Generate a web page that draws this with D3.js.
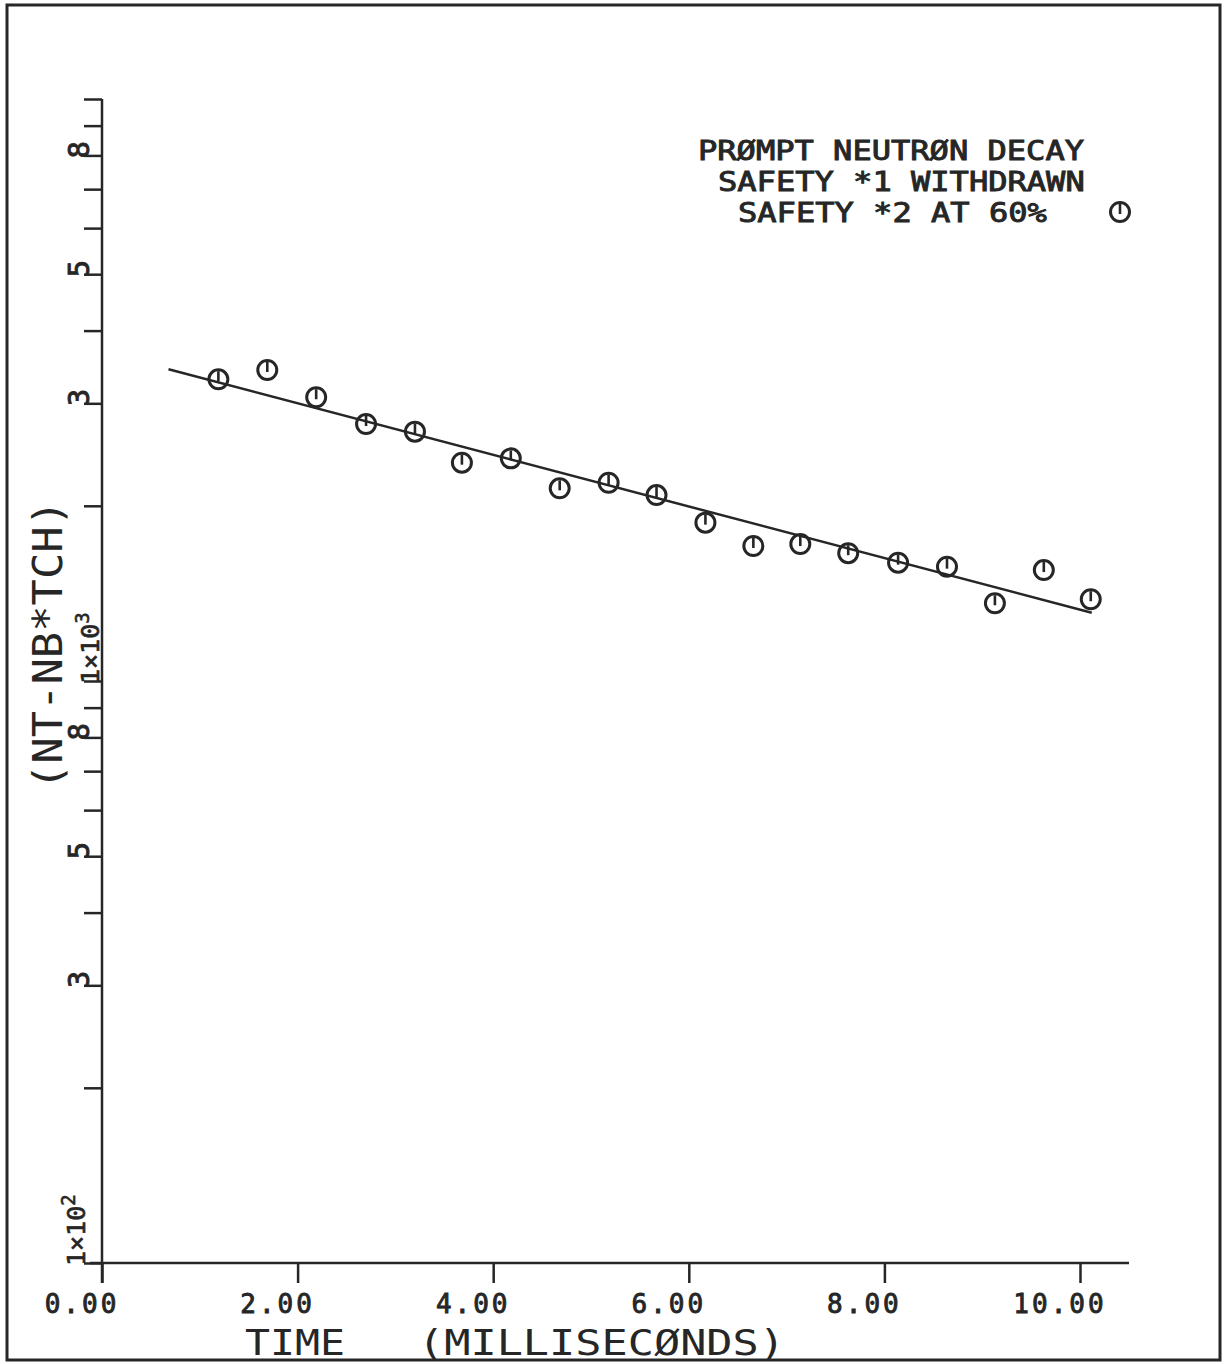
<!DOCTYPE html>
<html>
<head>
<meta charset="utf-8">
<script src="https://cdn.jsdelivr.net/npm/d3@7"></script>
<style>
  body { margin: 0; background: #fff; }
  svg text { font-family: "DejaVu Sans Mono", "Liberation Mono", monospace; fill: #262626; }
</style>
</head>
<body>
<div id="chart"></div>
<script>
// measured decay points (time in ms, counts NT-NB*TCH)
var timeMs = [1.19, 1.69, 2.19, 2.70, 3.20, 3.68, 4.18, 4.68, 5.18, 5.67,
              6.17, 6.66, 7.14, 7.63, 8.14, 8.64, 9.13, 9.63, 10.11];
var counts = [3299, 3423, 3073, 2764, 2682, 2372, 2413, 2143, 2191, 2087,
              1871, 1706, 1719, 1658, 1597, 1572, 1360, 1551, 1382];

// least squares fit line end points
var fitTime = [0.68, 10.12];
var fitCounts = [3433, 1310];

var xTicks = [0, 2, 4, 6, 8, 10];
var xTickLabels = ["0.00", "2.00", "4.00", "6.00", "8.00", "10.00"];
var yTicks = [100, 200, 300, 400, 500, 600, 700, 800, 900,
              1000, 2000, 3000, 4000, 5000, 6000, 7000, 8000, 9000, 10000];
var yDigitTicks = [300, 500, 800, 3000, 5000, 8000];
var yDigitLabels = ["3", "5", "8", "3", "5", "8"];

var legendLines = ["PRØMPT NEUTRØN DECAY", "SAFETY *1 WITHDRAWN", "SAFETY *2 AT 60%"];

var width = 1225, height = 1364,
    ink = "#262626";

var svg = d3.select("#chart").append("svg")
    .attr("width", width)
    .attr("height", height);

// paper frame
svg.append("rect")
    .attr("x", 7).attr("y", 5)
    .attr("width", 1213).attr("height", 1355)
    .attr("fill", "#fff")
    .attr("stroke", ink)
    .attr("stroke-width", 3);

var x = d3.scaleLinear().domain([0, 10]).range([102, 1080]);
var y = d3.scaleLog().domain([100, 10000]).range([1263, 99]);

// x axis
var xAxis = svg.append("g")
    .attr("transform", "translate(0," + y(100) + ")")
    .call(d3.axisBottom(x).tickValues(xTicks).tickSize(20).tickFormat(""));
xAxis.select(".domain").remove();
xAxis.selectAll("line").attr("stroke", ink).attr("stroke-width", 2.5);
xAxis.append("line")
    .attr("x1", 90).attr("x2", 1129)
    .attr("stroke", ink).attr("stroke-width", 2.5);

xAxis.selectAll(".xlab")
    .data(xTicks)
    .enter().append("text")
    .attr("class", "xlab")
    .attr("x", function(d) { return x(d) - 20; })
    .attr("y", 50)
    .attr("font-size", 26)
    .attr("letter-spacing", 3)
    .attr("stroke", ink)
    .attr("stroke-width", 0.9)
    .text(function(d, i) { return xTickLabels[i]; });

// y axis
var yAxis = svg.append("g")
    .attr("transform", "translate(" + x(0) + ",0)")
    .call(d3.axisLeft(y).tickValues(yTicks).tickSize(18).tickFormat(""));
yAxis.select(".domain").remove();
yAxis.selectAll("line").attr("stroke", ink).attr("stroke-width", 2.5);
yAxis.append("line")
    .attr("y1", y(10000)).attr("y2", y(100) + 20)
    .attr("stroke", ink).attr("stroke-width", 2.5);

// rotated digit labels (read bottom to top)
svg.selectAll(".ylab")
    .data(yDigitTicks)
    .enter().append("text")
    .attr("class", "ylab")
    .attr("font-size", 29)
    .attr("stroke", ink)
    .attr("stroke-width", 0.9)
    .attr("transform", function(d) { return "translate(89," + (y(d) + 3) + ") rotate(-90)"; })
    .text(function(d, i) { return yDigitLabels[i]; });

// decade labels
function decadeLabel(v, bx, exp) {
    var t = svg.append("text")
        .attr("font-size", 25)
        .attr("stroke", ink)
        .attr("stroke-width", 0.6)
        .attr("transform", "translate(" + bx + "," + (y(v) + 3) + ") rotate(-90)");
    t.append("tspan").text("1×10");
    t.append("tspan").attr("dy", -10).attr("font-size", 19).text(exp);
}
decadeLabel(100, 85, "2");
decadeLabel(1000, 99, "3");

// axis titles
svg.append("text")
    .attr("font-size", 40)
    .attr("transform", "translate(62,645) rotate(-90)")
    .attr("text-anchor", "middle")
    .attr("textLength", 290)
    .attr("lengthAdjust", "spacingAndGlyphs")
    .text("(NT-NB*TCH)");

svg.append("text")
    .attr("font-size", 35)
    .attr("x", 245).attr("y", 1355)
    .attr("textLength", 100)
    .attr("lengthAdjust", "spacingAndGlyphs")
    .text("TIME");
svg.append("text")
    .attr("font-size", 35)
    .attr("x", 418).attr("y", 1355)
    .attr("textLength", 367)
    .attr("lengthAdjust", "spacingAndGlyphs")
    .text("(MILLISECØNDS)");

// fitted line
var line = d3.line()
    .x(function(d) { return x(d[0]); })
    .y(function(d) { return y(d[1]); });
svg.append("path")
    .datum(d3.zip(fitTime, fitCounts))
    .attr("d", line)
    .attr("fill", "none")
    .attr("stroke", ink)
    .attr("stroke-width", 2.5);

// plotter symbol: circle with a short stem
function marker(g) {
    g.append("circle")
        .attr("r", 9.5)
        .attr("fill", "none")
        .attr("stroke", ink)
        .attr("stroke-width", 3);
    g.append("line")
        .attr("y1", 2).attr("y2", -8)
        .attr("stroke", ink)
        .attr("stroke-width", 2.6);
}

svg.selectAll(".pt")
    .data(d3.zip(timeMs, counts))
    .enter().append("g")
    .attr("class", "pt")
    .attr("transform", function(d) { return "translate(" + x(d[0]) + "," + y(d[1]) + ")"; })
    .call(marker);

// legend
svg.selectAll(".leg")
    .data(legendLines)
    .enter().append("text")
    .attr("class", "leg")
    .attr("x", function(d, i) { return 698 + i * 20; })
    .attr("y", function(d, i) { return 160 + i * 31; })
    .attr("font-size", 26)
    .attr("stroke", ink)
    .attr("stroke-width", 0.9)
    .attr("textLength", function(d) { return d.length * 19.3; })
    .attr("lengthAdjust", "spacingAndGlyphs")
    .text(function(d) { return d; });

svg.append("g")
    .attr("transform", "translate(1120,212)")
    .call(marker);
</script>
</body>
</html>
